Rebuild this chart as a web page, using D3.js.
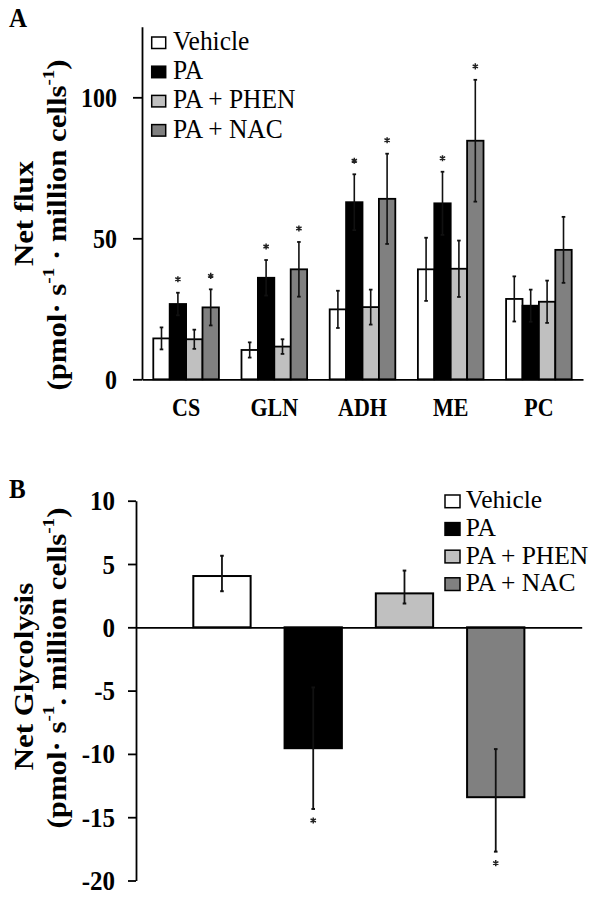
<!DOCTYPE html>
<html><head><meta charset="utf-8">
<script src="https://cdn.jsdelivr.net/npm/d3@7"></script>
<style>body{margin:0;background:#fff}svg{display:block}</style>
</head><body><svg id="c" width="601" height="899"></svg>
<script>
// ---------- data ----------
const fluxCategories = ["CS", "GLN", "ADH", "ME", "PC"];
const seriesNames = ["Vehicle", "PA", "PA + PHEN", "PA + NAC"];
const seriesColors = ["#ffffff", "#000000", "#c0c0c0", "#808080"];

const vehicleFlux    = [14.5, 10.4, 24.8, 39.0, 28.5];
const vehicleFluxErr = [3.9, 2.7, 6.6, 11.2, 8.0];
const paFlux         = [26.7, 36.0, 62.8, 62.4, 26.1];
const paFluxErr      = [4.0, 6.3, 9.9, 11.2, 5.7];
const phenFlux       = [14.2, 11.6, 25.6, 39.2, 27.5];
const phenFluxErr    = [3.4, 2.6, 6.2, 10.0, 7.5];
const nacFlux        = [25.5, 39.0, 64.0, 84.6, 45.9];
const nacFluxErr     = [6.4, 9.7, 16.0, 21.6, 11.7];
const fluxSignificant = [[0,0,0,0,0],[1,1,1,1,0],[0,0,0,0,0],[1,1,1,1,0]];
const fluxTicks = [0, 50, 100];
const fluxDomain = [0, 125];

const glycolysis        = [4.05, -9.55, 2.68, -13.42];
const glycolysisErrUp   = [1.6, 4.8, 1.8, 3.8];
const glycolysisErrDown = [1.2, 4.8, 0.8, 4.3];
const glycolysisSignificant = [0, 1, 0, 1];
const glycolysisTicks = [10, 5, 0, -5, -10, -15, -20];
const glycolysisDomain = [-20, 10];

// ---------- helpers ----------
const SERIF = "'Liberation Serif','Times New Roman',serif";
const SY = 1.1;
const svg = d3.select("#c");
svg.append("rect").attr("width", 601).attr("height", 899).attr("fill", "#fff");
const starPath = d3.symbol(d3.symbolAsterisk, 26)();

function addText(parent, x, y, content, o = {}) {
  const fs = o.size || 24;
  const sy = o.sy || SY;
  const t = parent.append("text")
    .attr("transform", `translate(${x},${y}) scale(1,${sy})` + (o.rotate ? ` rotate(${o.rotate})` : ""))
    .attr("font-family", SERIF).attr("font-size", fs)
    .attr("font-weight", o.weight || "normal")
    .attr("text-anchor", o.anchor || "start").attr("fill", "#000");
  const parts = Array.isArray(content) ? content : [content];
  let raised = false;
  parts.forEach(p => {
    if (typeof p === "string") {
      const ts = t.append("tspan").text(p).attr("font-size", fs);
      if (raised) { ts.attr("dy", 0.42 * fs); raised = false; }
    } else {
      t.append("tspan").text(p.sup).attr("font-size", fs * 0.62).attr("dy", -0.42 * fs);
      raised = true;
    }
  });
  return t;
}

// ---------- Panel A ----------
const fluxVals = [vehicleFlux, paFlux, phenFlux, nacFlux];
const fluxErrs = [vehicleFluxErr, paFluxErr, phenFluxErr, nacFluxErr];
const rowsA = [];
seriesNames.forEach((s, si) => fluxCategories.forEach((c, ci) => rowsA.push({
  s, si, c, v: fluxVals[si][ci], e: fluxErrs[si][ci], sig: fluxSignificant[si][ci]
})));

const yA = d3.scaleLinear().domain(fluxDomain).range([379.3, 26.8]);
const xA = d3.scaleBand().domain(fluxCategories).range([142, 583]).paddingInner(0.256).paddingOuter(0.128);
const xSub = d3.scaleBand().domain(seriesNames).range([0, xA.bandwidth()]);

const gA = svg.append("g");
gA.selectAll("rect.bar").data(rowsA).join("rect")
  .attr("x", d => xA(d.c) + xSub(d.s)).attr("width", xSub.bandwidth())
  .attr("y", d => yA(d.v)).attr("height", d => yA(0) - yA(d.v))
  .attr("fill", d => seriesColors[d.si]).attr("stroke", "#000").attr("stroke-width", 1.8);

const errA = gA.selectAll("g.err").data(rowsA).join("g")
  .attr("transform", d => `translate(${xA(d.c) + xSub(d.s) + xSub.bandwidth() / 2},0)`);
errA.append("line").attr("y1", d => yA(d.v + d.e)).attr("y2", d => yA(d.v - d.e))
  .attr("stroke", "#111").attr("stroke-width", 1.6);
errA.append("line").attr("x1", -1.8).attr("x2", 1.8).attr("y1", d => yA(d.v + d.e)).attr("y2", d => yA(d.v + d.e))
  .attr("stroke", "#111").attr("stroke-width", 1.8);
errA.append("line").attr("x1", -1.8).attr("x2", 1.8).attr("y1", d => yA(d.v - d.e)).attr("y2", d => yA(d.v - d.e))
  .attr("stroke", "#111").attr("stroke-width", 1.8);
errA.filter(d => d.sig).append("path")
  .attr("d", starPath).attr("transform", d => `translate(0,${yA(d.v + d.e) - 13.5})`)
  .attr("fill", "none").attr("stroke", "#222").attr("stroke-width", 1.5);

const gyA = svg.append("g").attr("transform", "translate(142,0)")
  .call(d3.axisLeft(yA).tickValues(fluxTicks).tickSize(9).tickSizeOuter(0).tickFormat(d => String(d)));
gyA.select(".domain").attr("stroke", "#000").attr("stroke-width", 1.8);
gyA.selectAll(".tick line").attr("stroke", "#000").attr("stroke-width", 1.8);
gyA.selectAll(".tick text").attr("x", null).attr("dy", null)
  .attr("transform", `translate(-25,8.8) scale(1,${SY})`)
  .attr("font-family", SERIF).attr("font-size", 24).attr("font-weight", "bold").attr("fill", "#000");

const gxA = svg.append("g").attr("transform", `translate(0,${yA(0)})`)
  .call(d3.axisBottom(xA).tickSize(0).tickSizeOuter(0));
gxA.select(".domain").attr("stroke", "#000").attr("stroke-width", 1.8);
gxA.selectAll(".tick text").attr("y", null).attr("dy", null)
  .attr("transform", `translate(0,37) scale(1,${SY})`)
  .attr("font-family", SERIF).attr("font-size", 22).attr("font-weight", "bold").attr("fill", "#000");

addText(svg, 9, 27, "A", { size: 25, weight: "bold" });
addText(svg, 33, 213.5, "Net flux", { size: 28, weight: "bold", anchor: "middle", rotate: -90 });
addText(svg, 66, 225, ["(pmol\u00b7 s", { sup: "-1" }, " \u00b7  million cells", { sup: "-1" }, ")"],
  { size: 28, weight: "bold", anchor: "middle", rotate: -90 });

const legA = svg.append("g").selectAll("g").data(seriesNames).join("g")
  .attr("transform", (d, i) => `translate(0,${50 + i * 29.2})`);
legA.append("rect").attr("x", 151.7).attr("y", -13).attr("width", 14).attr("height", 11.5)
  .attr("fill", (d, i) => seriesColors[i]).attr("stroke", "#000").attr("stroke-width", 1.5);
legA.each(function (d) { addText(d3.select(this), 173, 0, d, { size: 25.5, sy: 1.05 }); });

// ---------- Panel B ----------
const rowsB = seriesNames.map((s, i) => ({
  s, i, v: glycolysis[i], up: glycolysisErrUp[i], down: glycolysisErrDown[i], sig: glycolysisSignificant[i]
}));
const yB = d3.scaleLinear().domain(glycolysisDomain).range([880.5, 500.7]);
const xB = d3.scaleBand().domain(seriesNames).range([136, 581.7]).paddingInner(0.372).paddingOuter(0.628);

const gB = svg.append("g");
gB.selectAll("rect").data(rowsB).join("rect")
  .attr("x", d => xB(d.s)).attr("width", xB.bandwidth())
  .attr("y", d => yB(Math.max(d.v, 0))).attr("height", d => Math.abs(yB(d.v) - yB(0)))
  .attr("fill", d => seriesColors[d.i]).attr("stroke", "#000").attr("stroke-width", 2);

const errB = gB.selectAll("g.err").data(rowsB).join("g")
  .attr("transform", d => `translate(${xB(d.s) + xB.bandwidth() / 2},0)`);
errB.append("line").attr("y1", d => yB(d.v + d.up)).attr("y2", d => yB(d.v - d.down))
  .attr("stroke", "#111").attr("stroke-width", 1.8);
errB.append("line").attr("x1", -1.8).attr("x2", 1.8).attr("y1", d => yB(d.v + d.up)).attr("y2", d => yB(d.v + d.up))
  .attr("stroke", "#111").attr("stroke-width", 2);
errB.append("line").attr("x1", -1.8).attr("x2", 1.8).attr("y1", d => yB(d.v - d.down)).attr("y2", d => yB(d.v - d.down))
  .attr("stroke", "#111").attr("stroke-width", 2);
errB.filter(d => d.sig).append("path")
  .attr("d", starPath).attr("transform", d => `translate(0,${yB(d.v - d.down) + 11.5})`)
  .attr("fill", "none").attr("stroke", "#222").attr("stroke-width", 1.5);

const gxB = svg.append("g").attr("transform", `translate(0,${yB(0)})`)
  .call(d3.axisBottom(xB).tickSize(0).tickSizeOuter(0).tickFormat(""));
gxB.select(".domain").attr("stroke", "#000").attr("stroke-width", 1.8);

const gyB = svg.append("g").attr("transform", "translate(136,0)")
  .call(d3.axisLeft(yB).tickValues(glycolysisTicks).tickSize(8).tickSizeOuter(0).tickFormat(d => String(d)));
gyB.select(".domain").attr("stroke", "#000").attr("stroke-width", 1.8);
gyB.selectAll(".tick line").attr("stroke", "#000").attr("stroke-width", 1.8);
gyB.selectAll(".tick text").attr("x", null).attr("dy", null)
  .attr("transform", `translate(-21,9) scale(1,${SY})`)
  .attr("font-family", SERIF).attr("font-size", 25).attr("font-weight", "bold").attr("fill", "#000");

addText(svg, 9, 498, "B", { size: 25, weight: "bold" });
addText(svg, 33, 676.5, "Net Glycolysis", { size: 28, weight: "bold", anchor: "middle", rotate: -90 });
addText(svg, 66, 668, ["(pmol\u00b7 s", { sup: "-1" }, ". million cells", { sup: "-1" }, ")"],
  { size: 28, weight: "bold", anchor: "middle", rotate: -90 });

const legB = svg.append("g").selectAll("g").data(seriesNames).join("g")
  .attr("transform", (d, i) => `translate(0,${508.3 + i * 27.6})`);
legB.append("rect").attr("x", 445).attr("y", -13.3).attr("width", 15).attr("height", 12.7)
  .attr("fill", (d, i) => seriesColors[i]).attr("stroke", "#000").attr("stroke-width", 1.5);
legB.each(function (d) { addText(d3.select(this), 465.7, 0, d, { size: 25.5, sy: 1.0 }); });
</script></body></html>
